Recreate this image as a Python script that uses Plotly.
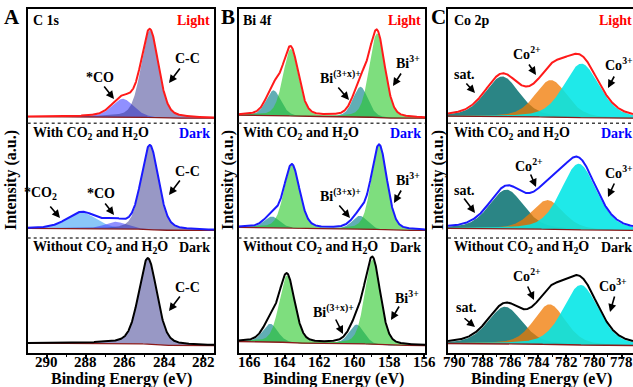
import numpy as np
import plotly.graph_objects as go

W, H = 633, 387
FONT = "Liberation Serif"

# ---------------- data: peak-fit components (centre eV, height a.u., FWHM eV) ----------------
# Panel A : C 1s   (order: C-C, *CO, *CO2)
c1s_light_centers = [284.73, 286.11]
c1s_light_heights = [87, 18]
c1s_light_fwhm = [1.05, 1.30]
c1s_dark_centers = [284.73, 286.50, 288.20]
c1s_dark_heights = [84, 7, 16]
c1s_dark_fwhm = [1.05, 1.30, 1.75]
c1s_ref_centers = [284.83]
c1s_ref_heights = [86]
c1s_ref_fwhm = [1.10]

# Panel B : Bi 4f  (order: Bi3+ 4f7/2, Bi3+ 4f5/2, Bi(3+x)+ 4f7/2, Bi(3+x)+ 4f5/2)
bi_light_centers = [158.70, 163.65, 159.65, 164.64]
bi_light_heights = [84, 67, 30, 25]
bi_dark_centers = [158.58, 163.59, 159.69, 164.73]
bi_dark_heights = [84, 63, 13, 11]
bi_ref_centers = [158.96, 163.87, 159.87, 164.83]
bi_ref_heights = [85, 67, 19, 18]
bi_fwhm = [1.05, 1.05, 1.00, 1.00]

# Panel C : Co 2p  (order: sat., Co3+, Co2+)
co_light_centers = [786.60, 780.90, 783.10]
co_light_heights = [40, 54, 37]
co_dark_centers = [786.30, 781.10, 783.35]
co_dark_heights = [39, 66, 29]
co_ref_centers = [786.40, 780.95, 783.20]
co_ref_heights = [37, 60, 40]
co_fwhm = [2.9, 3.0, 2.7]

# stacking offsets (Light, With CO2/H2O dark, Without dark) and Shirley step heights
stack_offsets = [234, 122, 7]
shirley_steps_c1s = [1.5, 2.0, 2.4]
shirley_steps_bi = [3.0, 3.0, 4.0]
shirley_steps_co = [2.0, 2.0, 2.0]

x_ticks_c1s = [290, 288, 286, 284, 282]
x_ticks_bi = [166, 164, 162, 160, 158, 156]
x_ticks_co = [790, 788, 786, 784, 782, 780, 778]

# ---------------- styling ----------------
ranges = [[290.97, 281.45], [166.65, 155.95], [790.5, 777.2]]
domains = [[27.7 / W, 214 / W], [238.5 / W, 425 / W], [448 / W, 1.0]]
ydom = [1 - 352.5 / H, 1 - 9 / H]
env_colors = ["#ff1a1a", "#1a1aff", "#000000"]

c1s_colors = ["rgba(50,50,140,0.5)", "rgba(70,70,255,0.6)", "rgba(60,160,245,0.6)"]
bi_colors = ["rgba(40,200,40,0.6)", "rgba(40,200,40,0.6)", "rgba(30,140,150,0.7)", "rgba(30,140,150,0.7)"]
co_colors = ["rgba(20,120,120,0.9)", "rgba(0,230,230,0.88)", "rgba(240,120,0,0.75)"]


def pv(E, c, h, w, eta):
    d2 = (E - c) ** 2 / w ** 2
    return h * ((1 - eta) * np.exp(-4 * np.log(2) * d2) + eta / (1 + 4 * d2))


fig = go.Figure()


def add_spectrum(k, centers, heights, fwhms, colors, eta, offset, step, env_color, draw_order=None):
    xa = "x" if k == 0 else f"x{k + 1}"
    ya = "y" if k == 0 else f"y{k + 1}"
    E = np.linspace(ranges[k][0], ranges[k][1], 800)
    comps = [pv(E, c, h, w, eta) for c, h, w in zip(centers, heights, fwhms)]
    total = np.sum(comps, axis=0)
    cum = np.cumsum(total[::-1])[::-1]
    cum = cum / cum[0]
    bg = offset + step * cum
    order = draw_order if draw_order is not None else range(len(comps))
    for i in order:
        fig.add_trace(go.Scatter(x=E, y=bg, mode="lines", line=dict(width=0, color="rgba(0,0,0,0)"),
                                 xaxis=xa, yaxis=ya, hoverinfo="skip", showlegend=False))
        fig.add_trace(go.Scatter(x=E, y=bg + comps[i], mode="lines", line=dict(width=0, color="rgba(0,0,0,0)"),
                                 fill="tonexty", fillcolor=colors[i], xaxis=xa, yaxis=ya,
                                 hoverinfo="skip", showlegend=False))
    fig.add_trace(go.Scatter(x=E, y=bg, mode="lines", line=dict(width=1.3, color="#8b1a1a"),
                             xaxis=xa, yaxis=ya, hoverinfo="skip", showlegend=False))
    fig.add_trace(go.Scatter(x=E, y=bg + total, mode="lines", line=dict(width=2, color=env_color),
                             xaxis=xa, yaxis=ya, hoverinfo="skip", showlegend=False))


# Panel A
add_spectrum(0, c1s_light_centers, c1s_light_heights, c1s_light_fwhm, c1s_colors, 0.3,
             stack_offsets[0], shirley_steps_c1s[0], env_colors[0], draw_order=[1, 0])
add_spectrum(0, c1s_dark_centers, c1s_dark_heights, c1s_dark_fwhm, c1s_colors, 0.3,
             stack_offsets[1], shirley_steps_c1s[1], env_colors[1], draw_order=[2, 1, 0])
add_spectrum(0, c1s_ref_centers, c1s_ref_heights, c1s_ref_fwhm, c1s_colors, 0.3,
             stack_offsets[2], shirley_steps_c1s[2], env_colors[2])
# Panel B
for j, (cs, hs) in enumerate([(bi_light_centers, bi_light_heights), (bi_dark_centers, bi_dark_heights),
                              (bi_ref_centers, bi_ref_heights)]):
    add_spectrum(1, cs, hs, bi_fwhm, bi_colors, 0.25, stack_offsets[j], shirley_steps_bi[j],
                 env_colors[j], draw_order=[2, 3, 0, 1])
# Panel C
for j, (cs, hs) in enumerate([(co_light_centers, co_light_heights), (co_dark_centers, co_dark_heights),
                              (co_ref_centers, co_ref_heights)]):
    add_spectrum(2, cs, hs, co_fwhm, co_colors, 0.35, stack_offsets[j], shirley_steps_co[j],
                 env_colors[j], draw_order=[0, 2, 1])

layout = dict(width=W, height=H, margin=dict(l=0, r=0, t=0, b=0), paper_bgcolor="white",
              plot_bgcolor="rgba(0,0,0,0)", showlegend=False)
tick_lists = [x_ticks_c1s, x_ticks_bi, x_ticks_co]
for k in range(3):
    xname = "xaxis" if k == 0 else f"xaxis{k + 1}"
    yname = "yaxis" if k == 0 else f"yaxis{k + 1}"
    layout[xname] = dict(domain=domains[k], range=ranges[k], anchor="y" if k == 0 else f"y{k + 1}",
                         showline=True, mirror=True, linewidth=2, linecolor="black",
                         showgrid=False, zeroline=False, ticks="outside", ticklen=4, tickwidth=1.5,
                         tickcolor="black", tickvals=tick_lists[k], showticklabels=False,
                         minor=dict(dtick=1, ticks="outside", ticklen=2.5, tickwidth=1.2, tickcolor="black"))
    layout[yname] = dict(domain=ydom, range=[0, 343], anchor="x" if k == 0 else f"x{k + 1}",
                         showline=True, mirror=(k < 2), linewidth=2, linecolor="black",
                         showgrid=False, zeroline=False, showticklabels=False, ticks="")
fig.update_layout(**layout)

# dotted separators
shapes = []
for k in range(3):
    xr = "x domain" if k == 0 else f"x{k + 1} domain"
    yr = "y" if k == 0 else f"y{k + 1}"
    for yv in [229, 114.3]:
        shapes.append(dict(type="line", xref=xr, yref=yr, x0=0, x1=1, y0=yv, y1=yv,
                           line=dict(color="#444444", width=1.5, dash="dot")))
fig.update_layout(shapes=shapes)

ann = []


def txt(px, py, s, color="black", size=14, xanchor="center", angle=0):
    ann.append(dict(xref="paper", yref="paper", x=px / W, y=1 - py / H, text=s, showarrow=False,
                    xanchor=xanchor, yanchor="middle", textangle=angle,
                    font=dict(family=FONT, size=size, color=color, weight="bold")))


def arrow(tx, ty, hx, hy):
    ann.append(dict(xref="paper", yref="paper", x=hx / W, y=1 - hy / H, ax=tx - hx, ay=ty - hy,
                    text="", showarrow=True, arrowhead=2, arrowsize=1, arrowwidth=1.6,
                    arrowcolor="black"))


# tick labels placed on the axis scale (closer to the axis than Plotly's default)
for k in range(3):
    xr = "x" if k == 0 else f"x{k + 1}"
    for t in tick_lists[k]:
        ann.append(dict(xref=xr, yref="paper", x=t, y=1 - 362 / H, text=str(t), showarrow=False,
                        xanchor="center", yanchor="middle",
                        font=dict(family=FONT, size=15, color="black", weight="bold")))

WITH = "With CO<sub>2</sub> and H<sub>2</sub>O"
WITHOUT = "Without CO<sub>2</sub> and H<sub>2</sub>O"
lefts = [31, 241, 452]
rights = [212, 423, 634]
titles = ["C 1s", "Bi 4f", "Co 2p"]
for k in range(3):
    txt(lefts[k], 20, titles[k], xanchor="left")
    txt(rights[k], 20, "Light", color="#ff0000", xanchor="right")
    txt(lefts[k], 133, WITH, xanchor="left")
    txt(rights[k], 133, "Dark", color="#0000ff", xanchor="right")
    txt(lefts[k], 247, WITHOUT, xanchor="left")
    txt(rights[k], 247, "Dark", xanchor="right")

# panel letters, axis titles
for lx, letter in zip([12, 228, 438], ["A", "B", "C"]):
    txt(lx, 17, letter, size=21)
for yx in [11, 228, 438]:
    txt(yx, 180, "Intensity (a.u.)", size=16, angle=-90)
for cx in [121, 333, 541]:
    txt(cx, 379, "Binding Energy (eV)", size=16)

# peak labels with arrows
txt(100, 77, "*CO"); arrow(103, 85, 114, 99)
txt(188, 59, "C-C"); arrow(181, 67, 169, 83)
txt(40, 193, "*CO<sub>2</sub>"); arrow(49, 205, 60, 218)
txt(101, 193, "*CO"); arrow(104, 202, 114, 215)
txt(188, 171, "C-C"); arrow(181, 179, 169, 195)
txt(188, 287, "C-C"); arrow(181, 295, 169, 311)

BIX = "Bi<sup>(3+x)+</sup>"
BI3 = "Bi<sup>3+</sup>"
txt(340, 77, BIX); arrow(337, 86, 349, 100)
txt(408, 62, BI3); arrow(402, 72, 393, 86)
txt(340, 195, BIX); arrow(338, 204, 350, 218)
txt(408, 179, BI3); arrow(402, 189, 394, 203)
txt(333, 311, BIX); arrow(335, 318, 343, 334)
txt(407, 297, BI3); arrow(400, 305, 391, 320)

txt(464, 74, "sat."); arrow(465, 82, 475, 93)
txt(527, 53, "Co<sup>2+</sup>"); arrow(528, 63, 536, 75)
txt(619, 64, "Co<sup>3+</sup>"); arrow(615, 75, 608, 88)
txt(464, 190, "sat."); arrow(463, 197, 475, 213)
txt(529, 165, "Co<sup>2+</sup>"); arrow(530, 173, 536, 187)
txt(619, 172, "Co<sup>3+</sup>"); arrow(615, 182, 608, 197)
txt(466, 307, "sat."); arrow(463, 317, 475, 327)
txt(527, 275, "Co<sup>2+</sup>"); arrow(527, 285, 534, 300)
txt(613, 285, "Co<sup>3+</sup>"); arrow(615, 295, 610, 312)

fig.update_layout(annotations=ann)
fig.write_html("out.html", config={"displayModeBar": False},
               post_script="document.body.style.margin='0px';document.body.style.overflow='hidden';")
